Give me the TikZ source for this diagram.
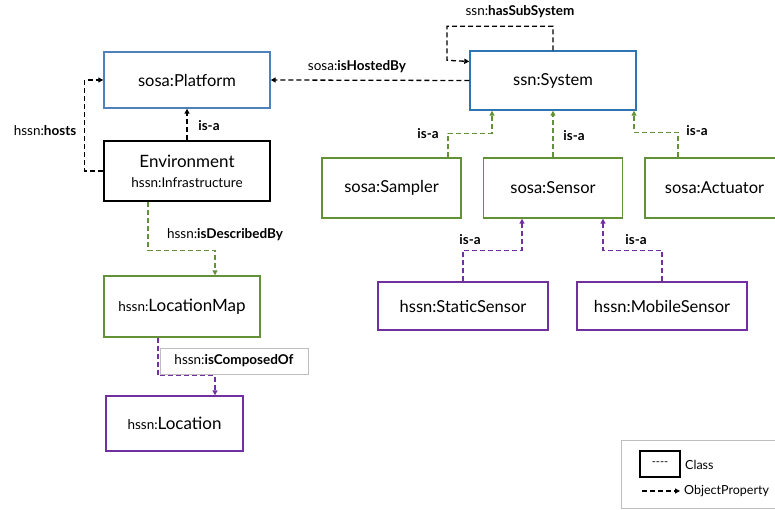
\documentclass[tikz,border=0pt]{standalone}
\usepackage{fontspec}
\setmainfont{Lato}
\usetikzlibrary{arrows.meta}
\definecolor{pblue}{RGB}{79,129,189}
\definecolor{sblue}{RGB}{46,117,182}
\definecolor{cgreen}{RGB}{98,145,56}
\definecolor{cpurple}{RGB}{112,48,160}
\definecolor{lgray}{RGB}{190,190,190}
\begin{document}
\begin{tikzpicture}[x=1pt,y=-1pt,
  cls/.style={draw, line width=1.4pt, inner sep=0pt, font=\fontsize{16.5}{19}\selectfont},
  prop/.style={draw=black, line width=1.3pt, dash pattern=on 5pt off 3pt, -{Triangle[length=5pt,width=5pt]}},
  isa/.style={prop, draw=#1, -{Triangle[length=5pt,width=5pt]}},
  lbl/.style={font=\fontsize{13.5}{15}\selectfont, inner sep=1pt}
]
\useasboundingbox (0,0) rectangle (775,510);
% classes
\node[cls, draw=pblue, minimum width=166pt, minimum height=56pt] (plat) at (187,80) {sosa:Platform};
\node[cls, draw=sblue, minimum width=166pt, minimum height=59pt] (sys) at (553,80.5) {ssn:System};
\node[cls, draw=black, line width=2.6pt, minimum width=166pt, minimum height=60pt, align=center] (env) at (187,171)
  {{\fontsize{17}{19}\selectfont Environment}\\[1pt]{\fontsize{13.5}{15}\selectfont hssn:Infrastructure}};
\node[cls, draw=cgreen, minimum width=139pt, minimum height=60pt] (sampler) at (391.5,188) {sosa:Sampler};
\node[cls, draw=cgreen, minimum width=139pt, minimum height=60pt] (sensor) at (553,188) {sosa:Sensor};
\node[cls, draw=cgreen, minimum width=139pt, minimum height=60pt] (act) at (714.5,188) {sosa:Actuator};
\node[cls, draw=cpurple, minimum width=170pt, minimum height=48pt] (static) at (463,306) {hssn:StaticSensor};
\node[cls, draw=cpurple, minimum width=170pt, minimum height=48pt] (mobile) at (662,306) {hssn:MobileSensor};
\node[cls, draw=cgreen, minimum width=156pt, minimum height=61pt] (lmap) at (182,306.5)
  {{\fontsize{13.5}{15}\selectfont hssn:}{\fontsize{17}{19}\selectfont LocationMap}};
\node[cls, draw=cpurple, minimum width=137pt, minimum height=55pt] (loc) at (174.5,423.5)
  {{\fontsize{13.5}{15}\selectfont hssn:}{\fontsize{17}{19}\selectfont Location}};
% connectors
\draw[prop] (env.west) -- ++(-18,0) |- (plat.west);
\node[lbl] (lhosts) at (45,131) {hssn:\textbf{hosts}};
\draw[prop] (env.north) -- (plat.south);
\node[lbl] (lisa0) at (209,126) {\textbf{is-a}};
\draw[prop] (sys.west) -- (plat.east);
\node[lbl] (lhosted) at (357,67) {sosa:\textbf{isHostedBy}};
\draw[prop] (sys.north) -- ++(0,-24) -| ++(-106,34) -- ([yshift=19pt]sys.west);
\node[lbl] (lsub) at (520,12) {ssn:\textbf{hasSubSystem}};
\draw[isa=cgreen] ([xshift=56.5pt]sampler.north) -- ++(0,-24) -| ([xshift=-61pt]sys.south);
\node[lbl] (lisa1) at (428,134) {\textbf{is-a}};
\draw[isa=cgreen] (sensor.north) -- (sys.south);
\node[lbl] (lisa2) at (574,136) {\textbf{is-a}};
\draw[isa=cgreen] ([xshift=-36.5pt]act.north) -- ++(0,-25) -| ([xshift=81pt]sys.south);
\node[lbl] (lisa3) at (697,131) {\textbf{is-a}};
\draw[isa=cpurple] (static.north) -- ++(0,-31) -| ([xshift=-31pt]sensor.south);
\node[lbl] (lisa4) at (470,240) {\textbf{is-a}};
\draw[isa=cpurple] (mobile.north) -- ++(0,-31) -| ([xshift=50pt]sensor.south);
\node[lbl] (lisa5) at (636,240) {\textbf{is-a}};
\draw[isa=cgreen] ([xshift=-39pt]env.south) -- ++(0,48) -| ([xshift=33pt]lmap.north);
\node[lbl] (ldesc) at (225,235) {hssn:\textbf{isDescribedBy}};
\draw[isa=cpurple] ([xshift=-24pt]lmap.south) -- ++(0,38) -| ([xshift=40.5pt]loc.north);
\node[lbl, draw=lgray, line width=0.8pt, fill=white, minimum width=148pt, minimum height=26pt] (lcomp) at (234,361) {hssn:\textbf{isComposedOf}};
% legend
\node[draw=lgray, line width=1pt, minimum width=155pt, minimum height=68pt, inner sep=0pt] (leg) at (699,474) {};
\node[draw=black, line width=1.2pt, minimum width=40pt, minimum height=26pt, inner sep=0pt, font=\fontsize{11}{12}\selectfont] (legc) at (660,464) {{-}{-}{-}{-}};
\node[lbl, anchor=west, font=\fontsize{12.5}{14}\selectfont] (legct) at (684,465) {Class};
\coordinate (la) at (642,491);
\coordinate (lb) at (680,491);
\draw[prop, line width=1.1pt] (la) -- (lb);
\node[lbl, anchor=west, font=\fontsize{12.5}{14}\selectfont] (legot) at (683,491) {ObjectProperty};
\end{tikzpicture}
\end{document}
